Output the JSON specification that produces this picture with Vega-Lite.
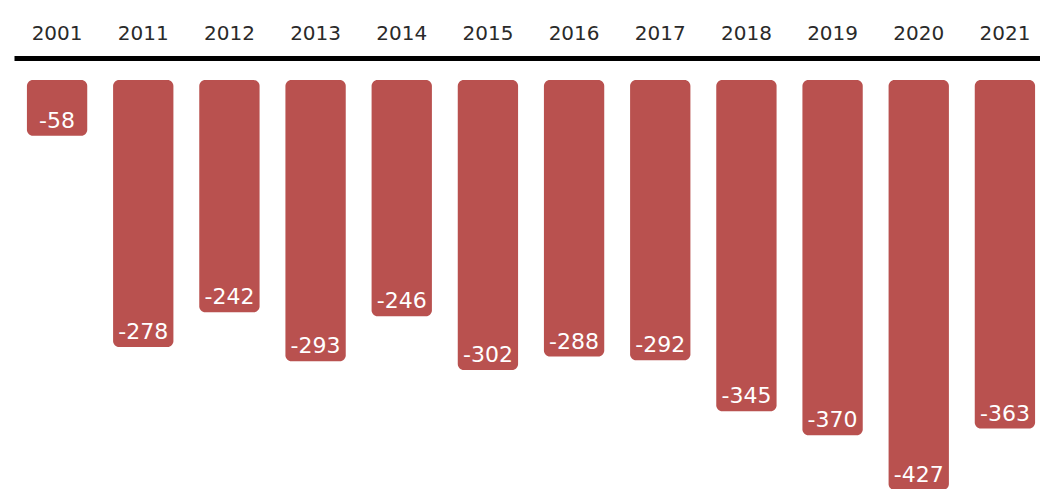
{
  "$schema": "https://vega.github.io/schema/vega-lite/v6.json",
  "width": 1026,
  "height": 409,
  "autosize": {"type": "none"},
  "padding": {"left": 14, "top": 80, "right": 0, "bottom": 0},
  "background": "white",
  "config": {"view": {"stroke": null}},
  "data": {"values": [
    {"year": "2001", "value": -58},
    {"year": "2011", "value": -278},
    {"year": "2012", "value": -242},
    {"year": "2013", "value": -293},
    {"year": "2014", "value": -246},
    {"year": "2015", "value": -302},
    {"year": "2016", "value": -288},
    {"year": "2017", "value": -292},
    {"year": "2018", "value": -345},
    {"year": "2019", "value": -370},
    {"year": "2020", "value": -427},
    {"year": "2021", "value": -363}
  ]},
  "encoding": {
    "x": {
      "field": "year", "type": "nominal", "sort": null,
      "scale": {"range": [0, 1034], "paddingInner": 0.3, "paddingOuter": 0.15},
      "axis": {
        "orient": "top", "title": null, "labelAngle": 0,
        "domainColor": "#000000", "domainWidth": 5, "offset": 22,
        "ticks": false, "tickSize": 0, "labelPadding": 15,
        "labelFont": "DejaVu Sans", "labelFontSize": 20, "labelColor": "#2a2a2a"
      }
    },
    "y": {
      "field": "value", "type": "quantitative",
      "scale": {"domain": [-426, 0], "nice": false},
      "axis": null
    }
  },
  "layer": [
    {
      "mark": {"type": "bar", "color": "#B9514F", "cornerRadius": 6},
      "encoding": {"y2": {"datum": 0}}
    },
    {
      "mark": {"type": "text", "color": "white", "font": "DejaVu Sans", "fontSize": 22, "baseline": "alphabetic", "dy": -8, "align": "center"},
      "encoding": {"text": {"field": "value", "type": "nominal"}}
    }
  ]
}
